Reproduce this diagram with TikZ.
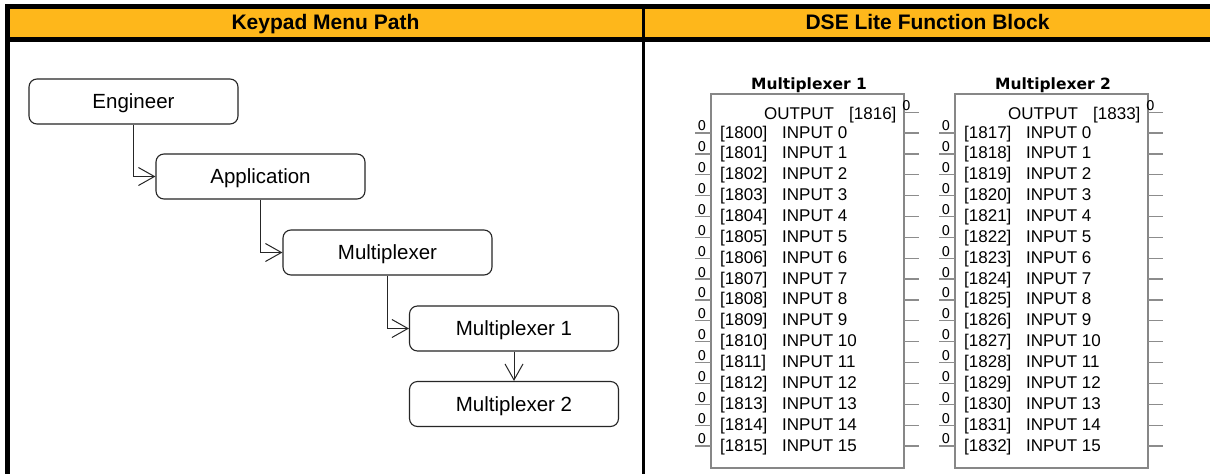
\documentclass[tikz,border=0pt]{standalone}
\usepackage{fontspec}
\setmainfont{Liberation Sans}
\newfontfamily\dejavu{DejaVu Sans}
\usetikzlibrary{arrows.meta}
\definecolor{hdr}{RGB}{254,183,27}
\definecolor{blkgray}{RGB}{135,135,135}
\definecolor{pingray}{RGB}{140,140,140}
\begin{document}
\begin{tikzpicture}[x=1pt,y=-1pt,
  menubox/.style={draw=black!85, line width=1.1pt, rounded corners=8pt, fill=white,
    minimum width=209pt, minimum height=45pt, inner sep=0pt,
    font=\fontsize{20.5}{24}\selectfont, text height=14.7pt, text depth=0pt},
  arr/.style={draw=black!85, line width=1pt,
    -{Straight Barb[length=16pt,width=18pt,line width=1pt]}},
  hdrtext/.style={anchor=base, inner sep=0pt, font=\bfseries\fontsize{21}{25}\selectfont},
  blockbox/.style={draw=blkgray, line width=1.3pt, fill=white, inner sep=0pt,
    minimum width=193pt, minimum height=374pt},
  blktitle/.style={anchor=base, inner sep=0pt, font=\dejavu\bfseries\fontsize{15.5}{18}\selectfont, text=black},
  blktext/.style={anchor=base west, inner sep=0pt, font=\fontsize{17}{20}\selectfont, text=black},
  zerotext/.style={inner sep=0pt, font=\dejavu\fontsize{13.5}{15}\selectfont, text=black},
  pin/.style={draw=pingray, line width=1.3pt}
]
\useasboundingbox (0,0) rectangle (1210,474);
\fill[white] (0,0) rectangle (1210,474);
% table header
\fill[hdr] (5,4) rectangle (1210,42);
\fill[black] (5,4) rectangle (1210,9);
\fill[black] (5,37) rectangle (1210,42);
\fill[black] (5,4) rectangle (10,474);
\fill[black] (642,4) rectangle (644.5,474);
\node[hdrtext] (h1) at (325.5,29) {Keypad Menu Path};
\node[hdrtext] (h2) at (927.5,29) {DSE Lite Function Block};
% menu path
\node[menubox] (eng) at (133.5,101.5) {Engineer};
\node[menubox] (app) at (260.5,176.5) {Application};
\node[menubox] (mux) at (387.5,252.5) {Multiplexer};
\node[menubox] (mux1m) at (514,328.5) {Multiplexer 1};
\node[menubox] (mux2m) at (514,404) {Multiplexer 2};
\draw[arr] (eng.south) |- (app.west);
\draw[arr] (app.south) |- (mux.west);
\draw[arr] (mux.south) |- (mux1m.west);
\draw[arr] (mux1m.south) -- (mux2m.north);
% function blocks
\foreach \bk/\xo/\first/\out in {1/0/1800/1816, 2/244/1817/1833} {
  \node[blockbox] (blk\bk) at (807.5+\xo,281) {};
  \node[blktitle] (title\bk) at (809+\xo,89) {Multiplexer \bk};
  \node[blktext] (outl\bk) at (764+\xo,119) {OUTPUT};
  \node[blktext] (outn\bk) at (849+\xo,119) {[\out]};
  \node[zerotext] (outz\bk) at (906.5+\xo,106) {0};
  \draw[pin] (904+\xo,112.7) -- (919+\xo,112.7);
  \foreach \i in {0,...,15} {
    \pgfmathtruncatemacro\num{\first+\i}
    \pgfmathsetmacro\yy{132+20.87*\i}
    \node[blktext] (id\bk-\i) at (720+\xo,\yy+6) {[\num]};
    \node[blktext] (in\bk-\i) at (782+\xo,\yy+6) {INPUT \i};
    \node[zerotext] (z\bk-\i) at (702+\xo,\yy-6) {0};
    \draw[pin] (695+\xo,\yy+1) -- (711+\xo,\yy+1);
    \draw[pin] (904+\xo,\yy+1) -- (919+\xo,\yy+1);
  }
}
\end{tikzpicture}
\end{document}
